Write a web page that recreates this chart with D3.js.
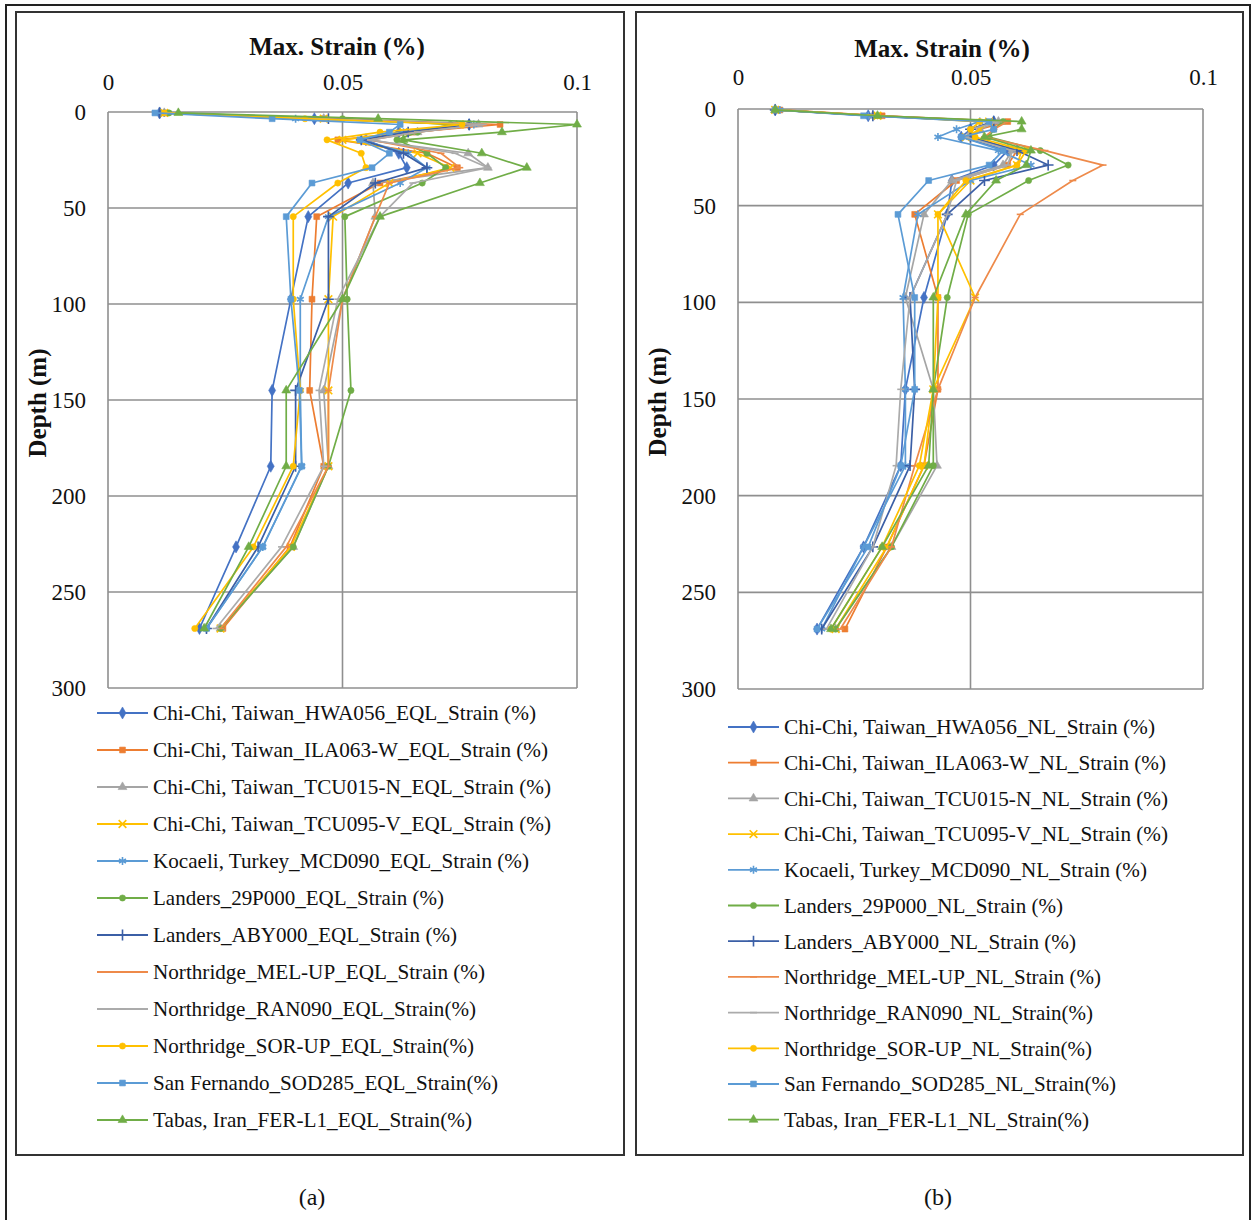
<!DOCTYPE html>
<html><head><meta charset="utf-8">
<script src="https://cdn.jsdelivr.net/npm/d3@7"></script>
<style>
html,body{margin:0;padding:0;background:#fff;}
svg{display:block;}
</style></head>
<body>
<svg id="fig" width="1254" height="1220"></svg>
<script>
// ---------- DATA ----------
const depths = [0.5, 3.5, 6.5, 10.5, 14.5, 21.5, 29, 37, 54.5, 97.5, 145, 184.5, 226.5, 269];
const xTicks = [0, 0.05, 0.1];
const xTickLabels = ["0", "0.05", "0.1"];
const yTicks = [0, 50, 100, 150, 200, 250, 300];
const xTitle = "Max. Strain (%)";
const yTitle = "Depth (m)";
const panelLabels = ["(a)", "(b)"];

const namesEQL = [
  "Chi-Chi, Taiwan_HWA056_EQL_Strain (%)",
  "Chi-Chi, Taiwan_ILA063-W_EQL_Strain (%)",
  "Chi-Chi, Taiwan_TCU015-N_EQL_Strain (%)",
  "Chi-Chi, Taiwan_TCU095-V_EQL_Strain (%)",
  "Kocaeli, Turkey_MCD090_EQL_Strain (%)",
  "Landers_29P000_EQL_Strain (%)",
  "Landers_ABY000_EQL_Strain (%)",
  "Northridge_MEL-UP_EQL_Strain (%)",
  "Northridge_RAN090_EQL_Strain(%)",
  "Northridge_SOR-UP_EQL_Strain(%)",
  "San Fernando_SOD285_EQL_Strain(%)",
  "Tabas, Iran_FER-L1_EQL_Strain(%)"
];
const namesNL = [
  "Chi-Chi, Taiwan_HWA056_NL_Strain (%)",
  "Chi-Chi, Taiwan_ILA063-W_NL_Strain (%)",
  "Chi-Chi, Taiwan_TCU015-N_NL_Strain (%)",
  "Chi-Chi, Taiwan_TCU095-V_NL_Strain (%)",
  "Kocaeli, Turkey_MCD090_NL_Strain (%)",
  "Landers_29P000_NL_Strain (%)",
  "Landers_ABY000_NL_Strain (%)",
  "Northridge_MEL-UP_NL_Strain (%)",
  "Northridge_RAN090_NL_Strain(%)",
  "Northridge_SOR-UP_NL_Strain(%)",
  "San Fernando_SOD285_NL_Strain(%)",
  "Tabas, Iran_FER-L1_NL_Strain(%)"
];

// EQL (panel a)
const eqlHWA056  = [0.011, 0.044, 0.077, 0.062, 0.055, 0.062, 0.0637, 0.0512, 0.0427, 0.039, 0.035, 0.0347, 0.0273, 0.0195];
const eqlILA063W = [0.012, 0.046, 0.0836, 0.065, 0.049, 0.068, 0.0745, 0.058, 0.0445, 0.0435, 0.043, 0.046, 0.0388, 0.0245];
const eqlTCU015N = [0.012, 0.046, 0.079, 0.066, 0.055, 0.0768, 0.081, 0.0565, 0.057, 0.050, 0.046, 0.047, 0.0395, 0.024];
const eqlTCU095V = [0.012, 0.046, 0.075, 0.063, 0.050, 0.066, 0.073, 0.060, 0.048, 0.047, 0.047, 0.047, 0.039, 0.024];
const eqlMCD090  = [0.012, 0.040, 0.078, 0.063, 0.054, 0.064, 0.068, 0.0623, 0.047, 0.041, 0.041, 0.0413, 0.033, 0.021];
const eql29P000  = [0.013, 0.050, 0.073, 0.066, 0.0616, 0.068, 0.072, 0.067, 0.0505, 0.051, 0.0518, 0.047, 0.0395, 0.024];
const eqlABY000  = [0.011, 0.047, 0.077, 0.064, 0.054, 0.063, 0.068, 0.057, 0.047, 0.047, 0.040, 0.040, 0.032, 0.021];
const eqlMELUP   = [0.012, 0.045, 0.080, 0.066, 0.056, 0.071, 0.075, 0.060, 0.057, 0.050, 0.047, 0.047, 0.038, 0.024];
const eqlRAN090  = [0.012, 0.044, 0.080, 0.066, 0.056, 0.074, 0.081, 0.065, 0.058, 0.049, 0.045, 0.046, 0.037, 0.023];
const eqlSORUP   = [0.012, 0.042, 0.0755, 0.058, 0.0467, 0.054, 0.055, 0.049, 0.0395, 0.0395, 0.041, 0.0395, 0.031, 0.0185];
const eqlSOD285  = [0.010, 0.035, 0.0623, 0.060, 0.0537, 0.060, 0.0563, 0.0435, 0.038, 0.039, 0.0408, 0.0413, 0.033, 0.021];
const eqlFERL1   = [0.015, 0.0576, 0.100, 0.084, 0.063, 0.0797, 0.0893, 0.0793, 0.058, 0.050, 0.038, 0.038, 0.030, 0.0205];

// NL (panel b)
const nlHWA056  = [0.008, 0.028, 0.055, 0.050, 0.048, 0.058, 0.055, 0.046, 0.045, 0.040, 0.036, 0.035, 0.027, 0.017];
const nlILA063W = [0.009, 0.031, 0.058, 0.052, 0.050, 0.060, 0.058, 0.047, 0.038, 0.043, 0.043, 0.040, 0.032, 0.023];
const nlTCU015N = [0.008, 0.029, 0.056, 0.052, 0.050, 0.059, 0.057, 0.046, 0.040, 0.036, 0.042, 0.0428, 0.033, 0.021];
const nlTCU095V = [0.008, 0.030, 0.054, 0.052, 0.049, 0.061, 0.060, 0.050, 0.043, 0.051, 0.042, 0.040, 0.032, 0.021];
const nlMCD090  = [0.009, 0.028, 0.052, 0.047, 0.043, 0.056, 0.063, 0.050, 0.0387, 0.0355, 0.036, 0.036, 0.027, 0.018];
const nl29P000  = [0.008, 0.030, 0.057, 0.055, 0.054, 0.065, 0.071, 0.0625, 0.0495, 0.045, 0.042, 0.042, 0.033, 0.021];
const nlABY000  = [0.008, 0.029, 0.055, 0.050, 0.050, 0.060, 0.0667, 0.053, 0.045, 0.037, 0.038, 0.037, 0.029, 0.018];
const nlMELUP   = [0.009, 0.031, 0.058, 0.055, 0.053, 0.066, 0.0785, 0.072, 0.0607, 0.051, 0.043, 0.038, 0.033, 0.022];
const nlRAN090  = [0.008, 0.030, 0.056, 0.050, 0.049, 0.059, 0.058, 0.047, 0.045, 0.037, 0.035, 0.034, 0.029, 0.019];
const nlSORUP   = [0.008, 0.030, 0.052, 0.050, 0.051, 0.062, 0.060, 0.049, 0.043, 0.043, 0.042, 0.039, 0.031, 0.020];
const nlSOD285  = [0.008, 0.027, 0.054, 0.055, 0.048, 0.057, 0.054, 0.041, 0.0344, 0.038, 0.038, 0.035, 0.028, 0.017];
const nlFERL1   = [0.008, 0.030, 0.061, 0.061, 0.053, 0.063, 0.062, 0.0555, 0.049, 0.042, 0.042, 0.041, 0.031, 0.020];

const seriesColors = ["#4472C4", "#ED7D31", "#A5A5A5", "#FFC000", "#5B9BD5", "#70AD47",
                      "#3B5FA6", "#EE8A4A", "#ABABAB", "#FFC000", "#5B9BD5", "#70AD47"];
const seriesMarkers = ["diamond", "square", "triangle", "x", "asterisk", "circle",
                       "plus", "dash", "dash", "circle", "square", "triangle"];

const valuesEQL = [eqlHWA056, eqlILA063W, eqlTCU015N, eqlTCU095V, eqlMCD090, eql29P000,
                   eqlABY000, eqlMELUP, eqlRAN090, eqlSORUP, eqlSOD285, eqlFERL1];
const valuesNL = [nlHWA056, nlILA063W, nlTCU015N, nlTCU095V, nlMCD090, nl29P000,
                  nlABY000, nlMELUP, nlRAN090, nlSORUP, nlSOD285, nlFERL1];

// ---------- LAYOUT ----------
const svg = d3.select("#fig");
const SERIF = "'Liberation Serif','Times New Roman',serif";

svg.append("rect").attr("x", 0).attr("y", 0).attr("width", 1254).attr("height", 1220).attr("fill", "#fff");
// outer frame
svg.append("rect").attr("x", 6).attr("y", 5).attr("width", 1244).attr("height", 1230)
  .attr("fill", "none").attr("stroke", "#222").attr("stroke-width", 2);

const panels = [
  { box: [16, 12, 608, 1143], x0: 108, x1: 577, y0: 112, y1: 688,
    titleX: 337, titleY: 46, xTickY: 82, yTickX: 86, yTitleX: 37,
    legX: 97, legY0: 713, legDy: 37.0, names: namesEQL, values: valuesEQL,
    legW: [383, 395, 398, 398, 376, 291, 304, 332, 323, 321, 345, 319],
    label: panelLabels[0], labelX: 312 },
  { box: [636, 12, 607, 1143], x0: 738, x1: 1203, y0: 109, y1: 689,
    titleX: 942, titleY: 48, xTickY: 77, yTickX: 716, yTitleX: 657,
    legX: 728, legY0: 727, legDy: 35.7, names: namesNL, values: valuesNL,
    legW: [371, 382, 384, 384, 363, 279, 292, 317, 309, 308, 332, 305],
    label: panelLabels[1], labelX: 938 }
];

function markerPath(type) {
  const sym = {
    diamond: d3.symbol(d3.symbolDiamond, 42),
    square: d3.symbol(d3.symbolSquare, 34),
    triangle: d3.symbol(d3.symbolTriangle, 34),
    circle: d3.symbol(d3.symbolCircle, 30),
    x: d3.symbol(d3.symbolX, 40),
    plus: d3.symbol(d3.symbolPlus, 40),
    asterisk: d3.symbol(d3.symbolAsterisk, 45)
  };
  if (type === "dash") return "M-3.5,0H3.5";
  return sym[type]();
}
function isStrokeMarker(t) { return t === "x" || t === "plus" || t === "asterisk" || t === "dash"; }

function drawMarker(g, type, color, x, y) {
  const p = g.append("path").attr("d", markerPath(type)).attr("transform", `translate(${x},${y})`);
  if (isStrokeMarker(type)) p.attr("fill", "none").attr("stroke", color).attr("stroke-width", 1.6);
  else p.attr("fill", color).attr("stroke", color).attr("stroke-width", 0.6);
}

panels.forEach(P => {
  const g = svg.append("g");
  g.append("rect").attr("x", P.box[0]).attr("y", P.box[1]).attr("width", P.box[2]).attr("height", P.box[3])
    .attr("fill", "#fff").attr("stroke", "#333").attr("stroke-width", 2);

  const x = d3.scaleLinear().domain([0, 0.1]).range([P.x0, P.x1]);
  const y = d3.scaleLinear().domain([0, 300]).range([P.y0, P.y1]);

  // gridlines
  const grid = g.append("g").attr("stroke", "#8f8f8f").attr("stroke-width", 1.6);
  yTicks.forEach(t => grid.append("line").attr("x1", x(0)).attr("x2", x(0.1)).attr("y1", y(t)).attr("y2", y(t)));
  xTicks.forEach(t => grid.append("line").attr("x1", x(t)).attr("x2", x(t)).attr("y1", y(0)).attr("y2", y(300)));

  // x axis (top) labels
  const xa = g.append("g").attr("transform", `translate(0,${P.xTickY})`)
    .call(d3.axisTop(x).tickValues(xTicks).tickSize(0).tickPadding(0)
      .tickFormat((d, i) => xTickLabels[i]));
  xa.select(".domain").remove();
  xa.selectAll("text").attr("font-family", SERIF).attr("font-size", 23).attr("fill", "#111")
    .attr("dy", "0.35em");

  // y axis labels
  const ya = g.append("g").attr("transform", `translate(${P.yTickX},0)`)
    .call(d3.axisLeft(y).tickValues(yTicks).tickSize(0).tickPadding(0).tickFormat(d3.format("d")));
  ya.select(".domain").remove();
  ya.selectAll("text").attr("font-family", SERIF).attr("font-size", 23).attr("fill", "#111");

  // titles
  g.append("text").attr("x", P.titleX).attr("y", P.titleY).attr("text-anchor", "middle")
    .attr("dominant-baseline", "central")
    .attr("font-family", SERIF).attr("font-weight", "bold").attr("font-size", 25).attr("fill", "#111")
    .text(xTitle);
  g.append("text").attr("transform", `translate(${P.yTitleX},${(P.y0 + P.y1) / 2 + 3}) rotate(-90)`)
    .attr("text-anchor", "middle").attr("dominant-baseline", "central")
    .attr("font-family", SERIF).attr("font-weight", "bold").attr("font-size", 25).attr("fill", "#111")
    .text(yTitle);

  // series
  const line = d3.line().x(d => x(d[0])).y(d => y(d[1]));
  P.values.forEach((vals, i) => {
    const pts = vals.map((v, j) => [v, depths[j]]);
    const sg = g.append("g");
    sg.append("path").attr("d", line(pts)).attr("fill", "none")
      .attr("stroke", seriesColors[i]).attr("stroke-width", 1.7).attr("stroke-linejoin", "round");
    pts.forEach(p => drawMarker(sg, seriesMarkers[i], seriesColors[i], x(p[0]), y(p[1])));
  });

  // legend
  P.names.forEach((n, i) => {
    const ly = P.legY0 + i * P.legDy;
    const lg = g.append("g");
    lg.append("line").attr("x1", P.legX).attr("x2", P.legX + 51).attr("y1", ly).attr("y2", ly)
      .attr("stroke", seriesColors[i]).attr("stroke-width", 1.8);
    drawMarker(lg, seriesMarkers[i], seriesColors[i], P.legX + 25.5, ly);
    lg.append("text").attr("x", P.legX + 56).attr("y", ly).attr("dy", "0.35em")
      .attr("font-family", SERIF).attr("font-size", 21).attr("fill", "#111")
      .attr("textLength", P.legW[i]).attr("lengthAdjust", "spacingAndGlyphs")
      .text(n);
  });

  // panel label
  svg.append("text").attr("x", P.labelX).attr("y", 1197).attr("text-anchor", "middle")
    .attr("dominant-baseline", "central")
    .attr("font-family", SERIF).attr("font-size", 24).attr("fill", "#111").text(P.label);
});
</script>
</body></html>
